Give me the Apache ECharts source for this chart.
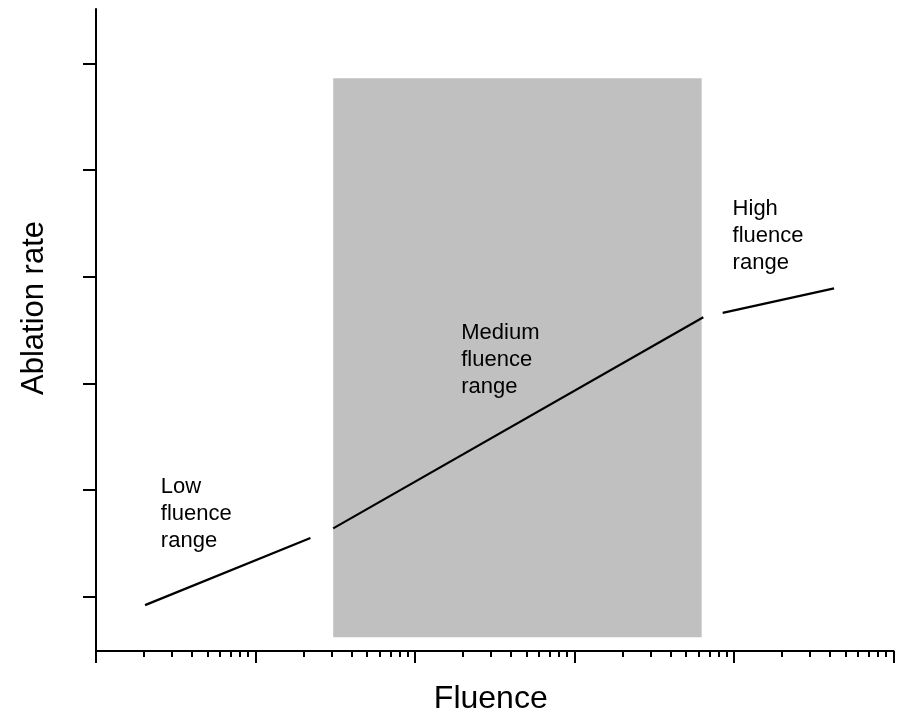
<!DOCTYPE html>
<html>
<head>
<meta charset="utf-8">
<script src="https://cdn.jsdelivr.net/npm/echarts@6/dist/echarts.min.js"></script>
<style>
  html, body { margin: 0; padding: 0; background: #fff; }
  #chart { width: 897px; height: 713px; }
</style>
</head>
<body>
<div id="chart"></div>
<script>
// segments of the ablation curve (fluence on log axis, rate in arbitrary units)
const lowFluence = [2.03, 22.1];
const lowRate = [0.92, 1.55];
const mediumFluence = [30.7, 6420];
const mediumRate = [1.64, 3.62];
const highFluence = [8490, 42400];
const highRate = [3.66, 3.89];

// shaded medium range
const shadeFluence = [30.7, 6270];
const shadeRate = [0.62, 5.86];

// range annotations (top-left anchor of each text block)
const rangeLabels = ['Low\nfluence\nrange', 'Medium\nfluence\nrange', 'High\nfluence\nrange'];
const labelFluence = [2.55, 195, 9800];
const labelRate = [2.155, 3.6, 4.765];

// ticks
const yTicks = [1, 2, 3, 4, 5, 6];
const decades = [1, 10, 100, 1000, 10000];
const minorSteps = [2, 3, 4, 5, 6, 7, 8, 9];
const xMinorTicks = [];
decades.forEach(d => minorSteps.forEach(m => xMinorTicks.push(d * m)));

const font = 'Liberation Sans, Arial, sans-serif';

const chart = echarts.init(document.getElementById('chart'));

const baseX = {
  type: 'log',
  logBase: 10,
  min: 1,
  max: 100000,
  gridIndex: 0,
  position: 'bottom',
  axisLabel: { show: false },
  splitLine: { show: false },
  minorTick: { show: false }
};

const option = {
  animation: false,
  backgroundColor: '#fff',
  grid: { left: 96, right: 3.5, top: 9, bottom: 62, outerBoundsMode: 'none' },
  xAxis: [
    Object.assign({}, baseX, {
      interval: 1,
      axisLine: { show: true, lineStyle: { color: '#000', width: 2 } },
      axisTick: { show: true, length: 12, lineStyle: { color: '#000', width: 2 } },
      name: 'Fluence',
      nameLocation: 'middle',
      nameGap: 32,
      nameTextStyle: { fontFamily: font, fontSize: 32, color: '#000', padding: [0, 8, 0, 0] }
    }),
    Object.assign({}, baseX, {
      axisLine: { show: false },
      axisTick: { show: true, length: 6, customValues: xMinorTicks, lineStyle: { color: '#000', width: 2 } }
    })
  ],
  yAxis: {
    type: 'value',
    min: 0.49,
    max: 6.51,
    axisLine: { show: true, lineStyle: { color: '#000', width: 2 } },
    axisTick: { show: true, length: 13, customValues: yTicks, lineStyle: { color: '#000', width: 2 } },
    axisLabel: { show: false },
    splitLine: { show: false },
    name: 'Ablation rate',
    nameLocation: 'middle',
    nameGap: 46,
    nameTextStyle: { fontFamily: font, fontSize: 31, color: '#000', padding: [0, 0, 0, 44] }
  },
  series: [
    {
      type: 'line',
      data: [],
      z: 1,
      markArea: {
        silent: true,
        itemStyle: { color: '#c0c0c0', opacity: 1 },
        data: [[
          { coord: [shadeFluence[0], shadeRate[1]] },
          { coord: [shadeFluence[1], shadeRate[0]] }
        ]]
      }
    },
    ...[[lowFluence, lowRate], [mediumFluence, mediumRate], [highFluence, highRate]].map(([fx, ry]) => ({
      type: 'line',
      z: 3,
      symbol: 'none',
      lineStyle: { color: '#000', width: 2.2 },
      data: fx.map((v, i) => [v, ry[i]])
    })),
    {
      type: 'scatter',
      z: 4,
      symbolSize: 0,
      silent: true,
      itemStyle: { opacity: 1 },
      data: rangeLabels.map((t, i) => ({ name: t, value: [labelFluence[i], labelRate[i]] })),
      label: {
        show: true,
        position: [0, 0],
        align: 'left',
        verticalAlign: 'top',
        formatter: p => p.name,
        fontFamily: font,
        fontSize: 22,
        lineHeight: 27,
        color: '#000'
      }
    }
  ]
};

chart.setOption(option);
</script>
</body>
</html>
